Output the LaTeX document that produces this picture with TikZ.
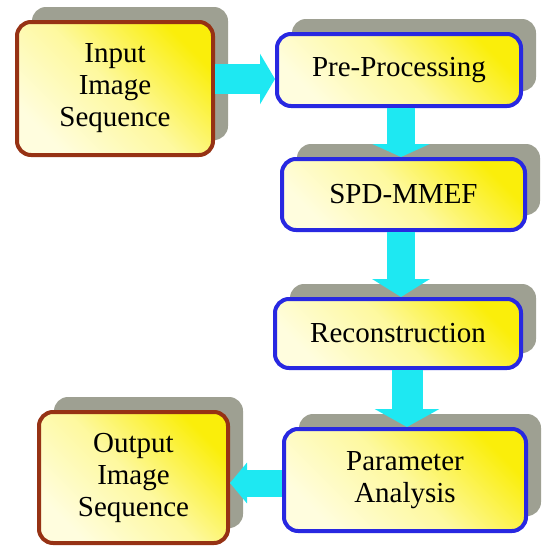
\documentclass[tikz,border=0pt]{standalone}
\usepackage{fontspec}
\setmainfont{Liberation Serif}
\usetikzlibrary{arrows.meta,shadows}

\definecolor{boxbrown}{RGB}{150,50,20}
\definecolor{boxblue}{RGB}{40,40,225}
\definecolor{shadowgray}{RGB}{158,160,146}
\definecolor{brightyellow}{RGB}{250,238,10}
\definecolor{paleyellow}{RGB}{255,253,222}
\definecolor{flowcyan}{RGB}{30,232,242}

\begin{document}
\begin{tikzpicture}[x=1pt,y=-1pt,
    flowarrow/.style args={#1/#2/#3}{draw=flowcyan,line width=#1,-{Triangle[width=#2,length=#3]}}]
\useasboundingbox (0,0) rectangle (546,549);

\begin{scope}[every node/.style={rectangle,rounded corners=14pt,line width=4pt,align=center,
                                 top color=brightyellow,bottom color=paleyellow,
                                 middle color=paleyellow!70!brightyellow,shading angle=-45,
                                 drop shadow={shadow xshift=15pt,shadow yshift=15pt,fill=shadowgray,opacity=1},
                                 font=\fontsize{29}{32}\selectfont,inner sep=0pt}]
    \node[draw=boxbrown,minimum width=196pt,minimum height=133pt] (input) at (115,88.5) {Input\\Image\\Sequence};
    \node[draw=boxblue,minimum width=244pt,minimum height=72pt] (pre) at (399,70) {Pre-Processing};
    \node[draw=boxblue,minimum width=243pt,minimum height=71pt] (spd) at (403.5,194.5) {SPD-MMEF};
    \node[draw=boxblue,minimum width=246pt,minimum height=69pt] (recon) at (398,333.5) {Reconstruction};
    \node[draw=boxblue,minimum width=242pt,minimum height=102pt] (param) at (405,480) {Parameter\\Analysis};
    \node[draw=boxbrown,minimum width=189pt,minimum height=131pt] (output) at (133.5,477.5) {Output\\Image\\Sequence};
\end{scope}

\begin{scope}
    \path ([yshift=9.5pt]input.east) edge[flowarrow=30pt/50pt/15pt] ([yshift=-9pt]pre.west);
    \path ([xshift=2pt]pre.south) edge[flowarrow=28pt/57pt/13pt] ([xshift=-2.5pt]spd.north);
    \path ([xshift=-2.5pt]spd.south) edge[flowarrow=28pt/57pt/18pt] ([xshift=3pt]recon.north);
    \path ([xshift=9pt]recon.south) edge[flowarrow=31pt/64pt/18pt] ([xshift=2pt]param.north);
    \path ([yshift=-3pt]param.west) edge[flowarrow=27pt/40pt/17pt] ([yshift=-5.5pt]output.east);
\end{scope}
\end{tikzpicture}
\end{document}
